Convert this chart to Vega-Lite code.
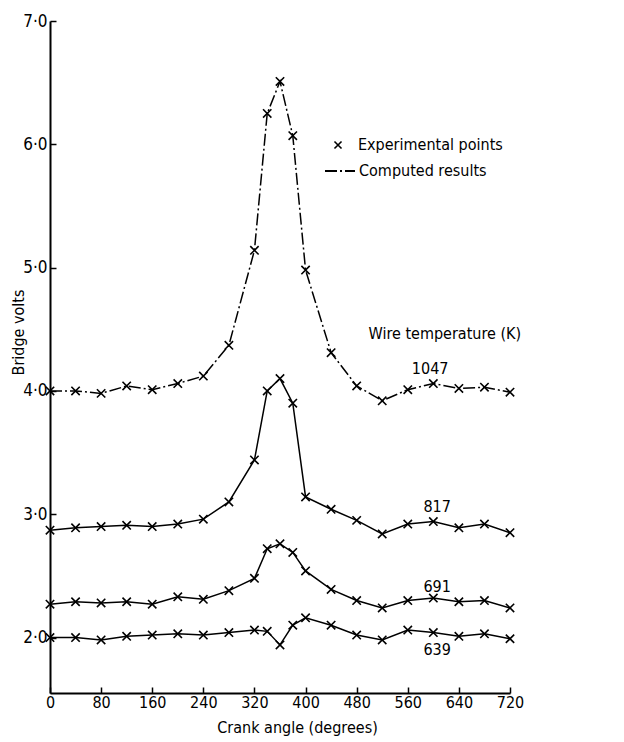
{
  "$schema": "https://vega.github.io/schema/vega-lite/v6.json",
  "autosize": "none",
  "width": 460,
  "height": 672,
  "padding": {"left": 50, "top": 21, "right": 114, "bottom": 49},
  "background": "white",
  "config": {
    "view": {"stroke": null},
    "font": "DejaVu Sans Condensed, DejaVu Sans",
    "axis": {
      "grid": false,
      "domainColor": "black",
      "domainWidth": 2,
      "tickColor": "black",
      "tickWidth": 1.5,
      "labelColor": "black",
      "titleColor": "black",
      "labelFontSize": 16,
      "titleFontSize": 16,
      "titleFontWeight": "normal",
      "labelFlush": false,
      "labelOverlap": false,
      "labelFont": "DejaVu Sans Condensed, DejaVu Sans",
      "titleFont": "DejaVu Sans Condensed, DejaVu Sans"
    },
    "legend": {
      "labelFont": "DejaVu Sans Condensed, DejaVu Sans",
      "labelFontSize": 16,
      "labelColor": "black",
      "labelLimit": 400
    }
  },
  "datasets": {
    "curves": [
      {"T": 1047, "angle": 0, "volts": 4.00}, {"T": 1047, "angle": 40, "volts": 4.00}, {"T": 1047, "angle": 80, "volts": 3.98},
      {"T": 1047, "angle": 120, "volts": 4.04}, {"T": 1047, "angle": 160, "volts": 4.01}, {"T": 1047, "angle": 200, "volts": 4.06},
      {"T": 1047, "angle": 240, "volts": 4.12}, {"T": 1047, "angle": 280, "volts": 4.37}, {"T": 1047, "angle": 320, "volts": 5.14},
      {"T": 1047, "angle": 340, "volts": 6.25}, {"T": 1047, "angle": 360, "volts": 6.51}, {"T": 1047, "angle": 380, "volts": 6.07},
      {"T": 1047, "angle": 400, "volts": 4.98}, {"T": 1047, "angle": 440, "volts": 4.31}, {"T": 1047, "angle": 480, "volts": 4.04},
      {"T": 1047, "angle": 520, "volts": 3.92}, {"T": 1047, "angle": 560, "volts": 4.01}, {"T": 1047, "angle": 600, "volts": 4.06},
      {"T": 1047, "angle": 640, "volts": 4.02}, {"T": 1047, "angle": 680, "volts": 4.03}, {"T": 1047, "angle": 720, "volts": 3.99},
      {"T": 817, "angle": 0, "volts": 2.87}, {"T": 817, "angle": 40, "volts": 2.89}, {"T": 817, "angle": 80, "volts": 2.90},
      {"T": 817, "angle": 120, "volts": 2.91}, {"T": 817, "angle": 160, "volts": 2.90}, {"T": 817, "angle": 200, "volts": 2.92},
      {"T": 817, "angle": 240, "volts": 2.96}, {"T": 817, "angle": 280, "volts": 3.10}, {"T": 817, "angle": 320, "volts": 3.44},
      {"T": 817, "angle": 340, "volts": 4.00}, {"T": 817, "angle": 360, "volts": 4.10}, {"T": 817, "angle": 380, "volts": 3.90},
      {"T": 817, "angle": 400, "volts": 3.14}, {"T": 817, "angle": 440, "volts": 3.04}, {"T": 817, "angle": 480, "volts": 2.95},
      {"T": 817, "angle": 520, "volts": 2.84}, {"T": 817, "angle": 560, "volts": 2.92}, {"T": 817, "angle": 600, "volts": 2.94},
      {"T": 817, "angle": 640, "volts": 2.89}, {"T": 817, "angle": 680, "volts": 2.92}, {"T": 817, "angle": 720, "volts": 2.85},
      {"T": 691, "angle": 0, "volts": 2.27}, {"T": 691, "angle": 40, "volts": 2.29}, {"T": 691, "angle": 80, "volts": 2.28},
      {"T": 691, "angle": 120, "volts": 2.29}, {"T": 691, "angle": 160, "volts": 2.27}, {"T": 691, "angle": 200, "volts": 2.33},
      {"T": 691, "angle": 240, "volts": 2.31}, {"T": 691, "angle": 280, "volts": 2.38}, {"T": 691, "angle": 320, "volts": 2.48},
      {"T": 691, "angle": 340, "volts": 2.72}, {"T": 691, "angle": 360, "volts": 2.76}, {"T": 691, "angle": 380, "volts": 2.69},
      {"T": 691, "angle": 400, "volts": 2.54}, {"T": 691, "angle": 440, "volts": 2.39}, {"T": 691, "angle": 480, "volts": 2.30},
      {"T": 691, "angle": 520, "volts": 2.24}, {"T": 691, "angle": 560, "volts": 2.30}, {"T": 691, "angle": 600, "volts": 2.32},
      {"T": 691, "angle": 640, "volts": 2.29}, {"T": 691, "angle": 680, "volts": 2.30}, {"T": 691, "angle": 720, "volts": 2.24},
      {"T": 639, "angle": 0, "volts": 2.00}, {"T": 639, "angle": 40, "volts": 2.00}, {"T": 639, "angle": 80, "volts": 1.98},
      {"T": 639, "angle": 120, "volts": 2.01}, {"T": 639, "angle": 160, "volts": 2.02}, {"T": 639, "angle": 200, "volts": 2.03},
      {"T": 639, "angle": 240, "volts": 2.02}, {"T": 639, "angle": 280, "volts": 2.04}, {"T": 639, "angle": 320, "volts": 2.06},
      {"T": 639, "angle": 340, "volts": 2.05}, {"T": 639, "angle": 360, "volts": 1.94}, {"T": 639, "angle": 380, "volts": 2.10},
      {"T": 639, "angle": 400, "volts": 2.16}, {"T": 639, "angle": 440, "volts": 2.10}, {"T": 639, "angle": 480, "volts": 2.02},
      {"T": 639, "angle": 520, "volts": 1.98}, {"T": 639, "angle": 560, "volts": 2.06}, {"T": 639, "angle": 600, "volts": 2.04},
      {"T": 639, "angle": 640, "volts": 2.01}, {"T": 639, "angle": 680, "volts": 2.03}, {"T": 639, "angle": 720, "volts": 1.99}
    ],
    "labels": [
      {"text": "Wire temperature (K)", "angle": 618, "volts": 4.46},
      {"text": "1047", "angle": 595, "volts": 4.18},
      {"text": "817", "angle": 606, "volts": 3.06},
      {"text": "691", "angle": 606, "volts": 2.41},
      {"text": "639", "angle": 606, "volts": 1.90}
    ]
  },
  "encoding": {
    "x": {
      "field": "angle",
      "type": "quantitative",
      "scale": {"domain": [0, 720], "nice": false, "zero": false},
      "axis": {
        "title": "Crank angle (degrees)",
        "values": [0, 80, 160, 240, 320, 400, 480, 560, 640, 720],
        "tickSize": -6,
        "labelPadding": 7,
        "labelFontSize": 16,
        "titleX": 247,
        "titleY": 34,
        "titleBaseline": "middle"
      }
    },
    "y": {
      "field": "volts",
      "type": "quantitative",
      "scale": {"domain": [1.55, 7.0], "nice": false, "zero": false},
      "axis": {
        "title": "Bridge volts",
        "values": [2, 3, 4, 5, 6, 7],
        "tickSize": -6,
        "labelPadding": 9,
        "labelFontSize": 17,
        "labelExpr": "replace(format(datum.value, '.1f'), '.', '·')",
        "titleX": -32,
        "titleY": 311,
        "titleBaseline": "middle"
      }
    }
  },
  "layer": [
    {
      "data": {"name": "curves"},
      "transform": [{"filter": "datum.T != 1047"}],
      "mark": {"type": "line", "color": "black", "strokeWidth": 1.5},
      "encoding": {"detail": {"field": "T"}}
    },
    {
      "data": {"name": "curves"},
      "transform": [{"filter": "datum.T == 1047"}],
      "mark": {"type": "line", "color": "black", "strokeWidth": 1.5},
      "encoding": {
        "strokeDash": {
          "datum": "Computed results",
          "scale": {"range": [[12, 3, 2, 3]]},
          "legend": {
            "title": null,
            "orient": "none",
            "legendX": 274,
            "legendY": 134,
            "symbolType": "stroke",
            "symbolSize": 900,
            "symbolStrokeWidth": 2,
            "symbolStrokeColor": "black",
            "labelOffset": 3
          }
        }
      }
    },
    {
      "data": {"name": "curves"},
      "mark": {"type": "point", "filled": false, "color": "black", "strokeWidth": 1.6, "size": 70, "opacity": 1},
      "encoding": {
        "shape": {
          "datum": "Experimental points",
          "scale": {"range": ["M-1,-1L1,1M-1,1L1,-1"]},
          "legend": {
            "title": null,
            "orient": "none",
            "legendX": 280,
            "legendY": 116,
            "symbolSize": 50,
            "symbolStrokeWidth": 1.6,
            "symbolStrokeColor": "black",
            "labelOffset": 12
          }
        }
      }
    },
    {
      "data": {"name": "labels"},
      "mark": {"type": "text", "fontSize": 16, "align": "center", "baseline": "middle", "color": "black"},
      "encoding": {"text": {"field": "text"}}
    }
  ]
}
